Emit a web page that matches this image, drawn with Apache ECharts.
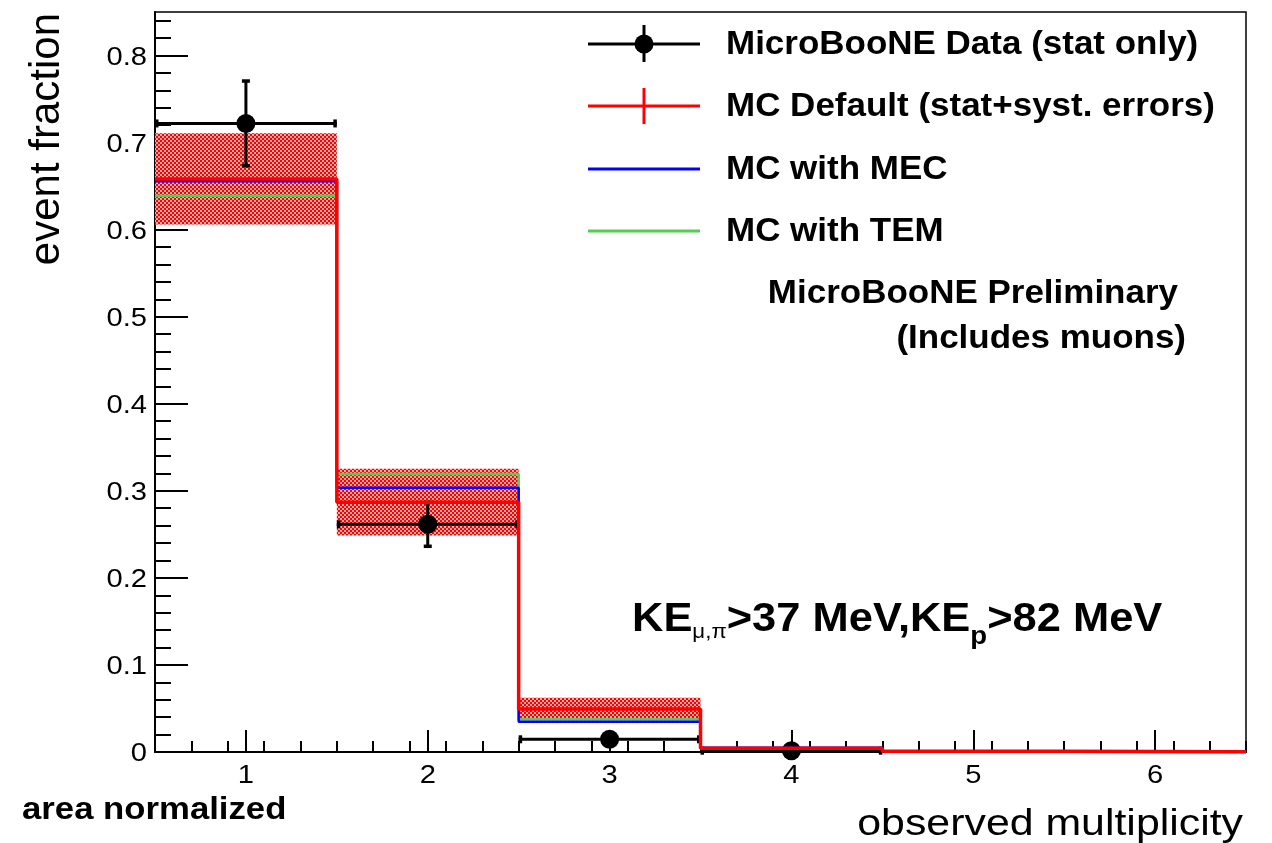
<!DOCTYPE html>
<html>
<head>
<meta charset="utf-8">
<script src="https://cdn.jsdelivr.net/npm/echarts@6/dist/echarts.min.js"></script>
<style>
  html, body { margin: 0; padding: 0; background: #ffffff; }
  #chart { width: 1272px; height: 843px; }
</style>
</head>
<body>
<div id="chart"></div>
<script>
// ---- histogram contents (bin centres, bin width 1) ----
const binCenters   = [1, 2, 3, 4, 5, 6];
const dataX        = [1, 2, 3, 4];
const dataVals     = [0.722, 0.2615, 0.0146, 0.0015];
const dataErrs     = [0.049, 0.0255, 0.003, 0.001];
const mcDefault    = [0.6583, 0.2870, 0.0494, 0.0043, 0.0008, 0.0003];
const mcDefaultErr = [0.0523, 0.0383, 0.0130, 0.0015, 0.0004, 0.0002];
const mcMEC        = [0.6555, 0.3036, 0.0348, 0.0050, 0.0008, 0.0003];
const mcTEM        = [0.6390, 0.3193, 0.0376, 0.0038, 0.0002, 0.0001];

// ---- axes ----
const xRange      = [0.5, 6.5];
const yRange      = [0, 0.85];
const xTickValues = [1, 2, 3, 4, 5, 6];
const xTickLabels = ['1', '2', '3', '4', '5', '6'];
const yTickValues = [0, 0.1, 0.2, 0.3, 0.4, 0.5, 0.6, 0.7, 0.8];
const yTickLabels = ['0', '0.1', '0.2', '0.3', '0.4', '0.5', '0.6', '0.7', '0.8'];
const xTitle = 'observed multiplicity';
const yTitle = 'event fraction';

// ---- legend / annotations ----
const legendLabels = [
  'MicroBooNE Data (stat only)',
  'MC Default (stat+syst. errors)',
  'MC with MEC',
  'MC with TEM'
];
const prelimLines = ['MicroBooNE Preliminary', '(Includes muons)'];
const normNote = 'area normalized';

const RED = '#ff0000', BLUE = '#0000ff', GREEN = '#55cc55', BLACK = '#000000';
const FONT = '"Liberation Sans", Arial, Helvetica, sans-serif';

// minor tick positions (5 subdivisions per major interval)
const xMinor = [];
for (let k = 0; k <= 30; k++) {
  const v = +(0.5 + k * 0.2).toFixed(2);
  if (Math.abs(v - Math.round(v)) > 1e-6) xMinor.push(v);
}
const yMinor = [];
for (let k = 1; k <= 42; k++) {
  if (k % 5 !== 0) yMinor.push(+(k * 0.02).toFixed(2));
}

// checkered fill for the MC uncertainty band
const tile = document.createElement('canvas');
tile.width = 4; tile.height = 4;
const tg = tile.getContext('2d');
tg.fillStyle = '#ffffff'; tg.fillRect(0, 0, 4, 4);
tg.fillStyle = RED;
tg.fillRect(0, 0, 2, 2);
tg.fillRect(2, 2, 2, 2);
tg.fillStyle = 'rgba(255,0,0,0.35)';
tg.fillRect(2, 0, 2, 2);
tg.fillRect(0, 2, 2, 2);
const bandFill = { image: tile, repeat: 'repeat' };

// step outline: points at the lower bin edges plus the final upper edge
function stepPoints(vals) {
  const pts = binCenters.map((c, i) => [c - 0.5, vals[i]]);
  pts.push([binCenters[binCenters.length - 1] + 0.5, vals[vals.length - 1]]);
  return pts;
}

const chart = echarts.init(document.getElementById('chart'), null, { renderer: 'canvas' });

const option = {
  animation: false,
  backgroundColor: '#ffffff',
  grid: { left: 155, right: 26, top: 12, bottom: 91, show: true, borderColor: BLACK, borderWidth: 1.5, backgroundColor: 'transparent' },
  xAxis: [
    {
      type: 'value', min: xRange[0], max: xRange[1], position: 'bottom', offset: 0,
      axisLine: { show: true, onZero: false, lineStyle: { color: BLACK, width: 2 } },
      axisTick: { show: true, inside: true, length: 22, customValues: xTickValues, lineStyle: { color: BLACK, width: 2 } },
      axisLabel: { show: false },
      splitLine: { show: false }
    },
    {
      type: 'value', min: xRange[0], max: xRange[1], position: 'bottom', offset: 0,
      axisLine: { show: false },
      axisTick: { show: true, inside: true, length: 11, customValues: xMinor, lineStyle: { color: BLACK, width: 2 } },
      axisLabel: { show: false },
      splitLine: { show: false }
    }
  ],
  yAxis: [
    {
      type: 'value', min: yRange[0], max: yRange[1], position: 'left', offset: 0,
      axisLine: { show: true, onZero: false, lineStyle: { color: BLACK, width: 2 } },
      axisTick: { show: true, inside: true, length: 33, customValues: yTickValues, lineStyle: { color: BLACK, width: 2 } },
      axisLabel: { show: false },
      splitLine: { show: false }
    },
    {
      type: 'value', min: yRange[0], max: yRange[1], position: 'left', offset: 0,
      axisLine: { show: false },
      axisTick: { show: true, inside: true, length: 16, customValues: yMinor, lineStyle: { color: BLACK, width: 2 } },
      axisLabel: { show: false },
      splitLine: { show: false }
    }
  ],
  series: [
    {
      name: 'MC Default band',
      type: 'custom',
      xAxisIndex: 0, yAxisIndex: 0,
      data: binCenters.map((c, i) => [c, mcDefault[i], mcDefaultErr[i]]),
      renderItem: function (params, api) {
        const x = api.value(0), v = api.value(1), e = api.value(2);
        const p1 = api.coord([x - 0.5, v + e]);
        const p2 = api.coord([x + 0.5, v - e]);
        return {
          type: 'rect',
          shape: { x: p1[0], y: p1[1], width: p2[0] - p1[0], height: Math.max(p2[1] - p1[1], 1) },
          style: { fill: bandFill }
        };
      },
      clip: false,
      silent: true
    },
    {
      name: legendLabels[3], type: 'line', step: 'end', data: stepPoints(mcTEM),
      showSymbol: false, clip: false, lineStyle: { color: GREEN, width: 2.5 }
    },
    {
      name: legendLabels[2], type: 'line', step: 'end', data: stepPoints(mcMEC),
      showSymbol: false, clip: false, lineStyle: { color: BLUE, width: 2.5 }
    },
    {
      name: legendLabels[1], type: 'line', step: 'end', data: stepPoints(mcDefault),
      showSymbol: false, clip: false, lineStyle: { color: RED, width: 3.5 }
    },
    {
      name: legendLabels[0],
      type: 'custom',
      data: dataX.map((c, i) => [c, dataVals[i], dataErrs[i]]),
      clip: false,
      renderItem: function (params, api) {
        const x = api.value(0), v = api.value(1), e = api.value(2);
        const c = api.coord([x, v]);
        const l = api.coord([x - 0.5, v]);
        const r = api.coord([x + 0.5, v]);
        const t = api.coord([x, v + e]);
        const b = api.coord([x, v - e]);
        const R = 9.5;
        const ls = { stroke: BLACK, lineWidth: 3 };
        const kids = [
          { type: 'line', shape: { x1: l[0], y1: c[1], x2: r[0], y2: c[1] }, style: ls },
          { type: 'rect', shape: { x: l[0], y: c[1] - 4, width: 3.5, height: 8 }, style: { fill: BLACK } },
          { type: 'rect', shape: { x: r[0] - 3.5, y: c[1] - 4, width: 3.5, height: 8 }, style: { fill: BLACK } }
        ];
        if (c[1] - t[1] > R) {
          kids.push({ type: 'line', shape: { x1: c[0], y1: t[1], x2: c[0], y2: b[1] }, style: ls });
          kids.push({ type: 'rect', shape: { x: c[0] - 4, y: t[1] - 1.5, width: 8, height: 3.5 }, style: { fill: BLACK } });
          kids.push({ type: 'rect', shape: { x: c[0] - 4, y: b[1] - 2, width: 8, height: 3.5 }, style: { fill: BLACK } });
        }
        kids.push({ type: 'circle', shape: { cx: c[0], cy: c[1], r: R }, style: { fill: BLACK } });
        return { type: 'group', children: kids };
      }
    }
  ]
};

chart.setOption(option);

// ---- text and legend drawn on top ----
const graphics = [];

function txt(text, x, y, opts) {
  return Object.assign({
    type: 'text', x: x, y: y, silent: true, z: 100,
    style: Object.assign({ text: text, fill: BLACK, font: '24px ' + FONT, align: 'left', verticalAlign: 'middle' }, opts.style || {})
  }, opts.el || {});
}

// tick labels placed through the axis scales
xTickValues.forEach((v, i) => {
  const px = chart.convertToPixel({ xAxisIndex: 0 }, v);
  graphics.push(txt(xTickLabels[i], px, 776, { style: { align: 'center', font: '26px ' + FONT }, el: { scaleX: 1.12 } }));
});
yTickValues.forEach((v, i) => {
  const py = chart.convertToPixel({ yAxisIndex: 0 }, v);
  graphics.push(txt(yTickLabels[i], 147, py + 2, { style: { align: 'right', font: '26px ' + FONT }, el: { scaleX: 1.12 } }));
});

// axis titles
graphics.push(txt(xTitle, 1243, 825, { style: { align: 'right', font: '36px ' + FONT }, el: { scaleX: 1.19 } }));
graphics.push(txt(yTitle, 47, 13, { style: { align: 'right', font: '42px ' + FONT }, el: { rotation: Math.PI / 2 } }));

// normalisation note
graphics.push(txt(normNote, 22, 810, { style: { align: 'left', font: 'bold 31px ' + FONT }, el: { scaleX: 1.12 } }));

// legend
const rowY = [44, 106, 169, 231];
const sx0 = 588, sx1 = 700, sxc = 644;
graphics.push({ type: 'line', z: 100, shape: { x1: sx0, y1: rowY[0], x2: sx1, y2: rowY[0] }, style: { stroke: BLACK, lineWidth: 3 } });
graphics.push({ type: 'line', z: 100, shape: { x1: sxc, y1: rowY[0] - 19, x2: sxc, y2: rowY[0] + 18 }, style: { stroke: BLACK, lineWidth: 3 } });
graphics.push({ type: 'circle', z: 100, shape: { cx: sxc, cy: rowY[0], r: 9.5 }, style: { fill: BLACK } });
graphics.push({ type: 'line', z: 100, shape: { x1: sx0, y1: rowY[1], x2: sx1, y2: rowY[1] }, style: { stroke: RED, lineWidth: 3 } });
graphics.push({ type: 'line', z: 100, shape: { x1: sxc, y1: rowY[1] - 18, x2: sxc, y2: rowY[1] + 18 }, style: { stroke: RED, lineWidth: 3 } });
graphics.push({ type: 'line', z: 100, shape: { x1: sx0, y1: rowY[2], x2: sx1, y2: rowY[2] }, style: { stroke: BLUE, lineWidth: 3 } });
graphics.push({ type: 'line', z: 100, shape: { x1: sx0, y1: rowY[3], x2: sx1, y2: rowY[3] }, style: { stroke: GREEN, lineWidth: 3 } });
legendLabels.forEach((s, i) => {
  graphics.push(txt(s, 726, rowY[i] + 1, { style: { font: 'bold 33px ' + FONT }, el: { scaleX: 1.06 } }));
});

// preliminary label
graphics.push(txt(prelimLines[0], 1178, 294, { style: { align: 'right', font: 'bold 33px ' + FONT }, el: { scaleX: 1.06 } }));
graphics.push(txt(prelimLines[1], 1186, 339, { style: { align: 'right', font: 'bold 33px ' + FONT }, el: { scaleX: 1.06 } }));

// kinematic threshold label with subscripts
const kinSegments = [
  { text: 'KE',          font: 'bold 41px ' + FONT, size: 41, base: 0 },
  { text: 'μ,π',         font: '21px ' + FONT,      size: 21, base: 5 },
  { text: '>37 MeV,KE',  font: 'bold 41px ' + FONT, size: 41, base: 0 },
  { text: 'p',           font: 'bold 26px ' + FONT, size: 26, base: 12 },
  { text: '>82 MeV',     font: 'bold 41px ' + FONT, size: 41, base: 0 }
];
const mctx = document.createElement('canvas').getContext('2d');
let cursor = 0;
const kinChildren = [];
kinSegments.forEach(seg => {
  mctx.font = seg.font;
  const w = mctx.measureText(seg.text).width;
  kinChildren.push({
    type: 'text', x: cursor, y: seg.base - 0.3465 * seg.size,
    style: { text: seg.text, font: seg.font, fill: BLACK, align: 'left', verticalAlign: 'middle' }
  });
  cursor += w;
});
graphics.push({ type: 'group', x: 632, y: 634, scaleX: 1.06, z: 100, silent: true, children: kinChildren });

chart.setOption({ graphic: graphics });
</script>
</body>
</html>
